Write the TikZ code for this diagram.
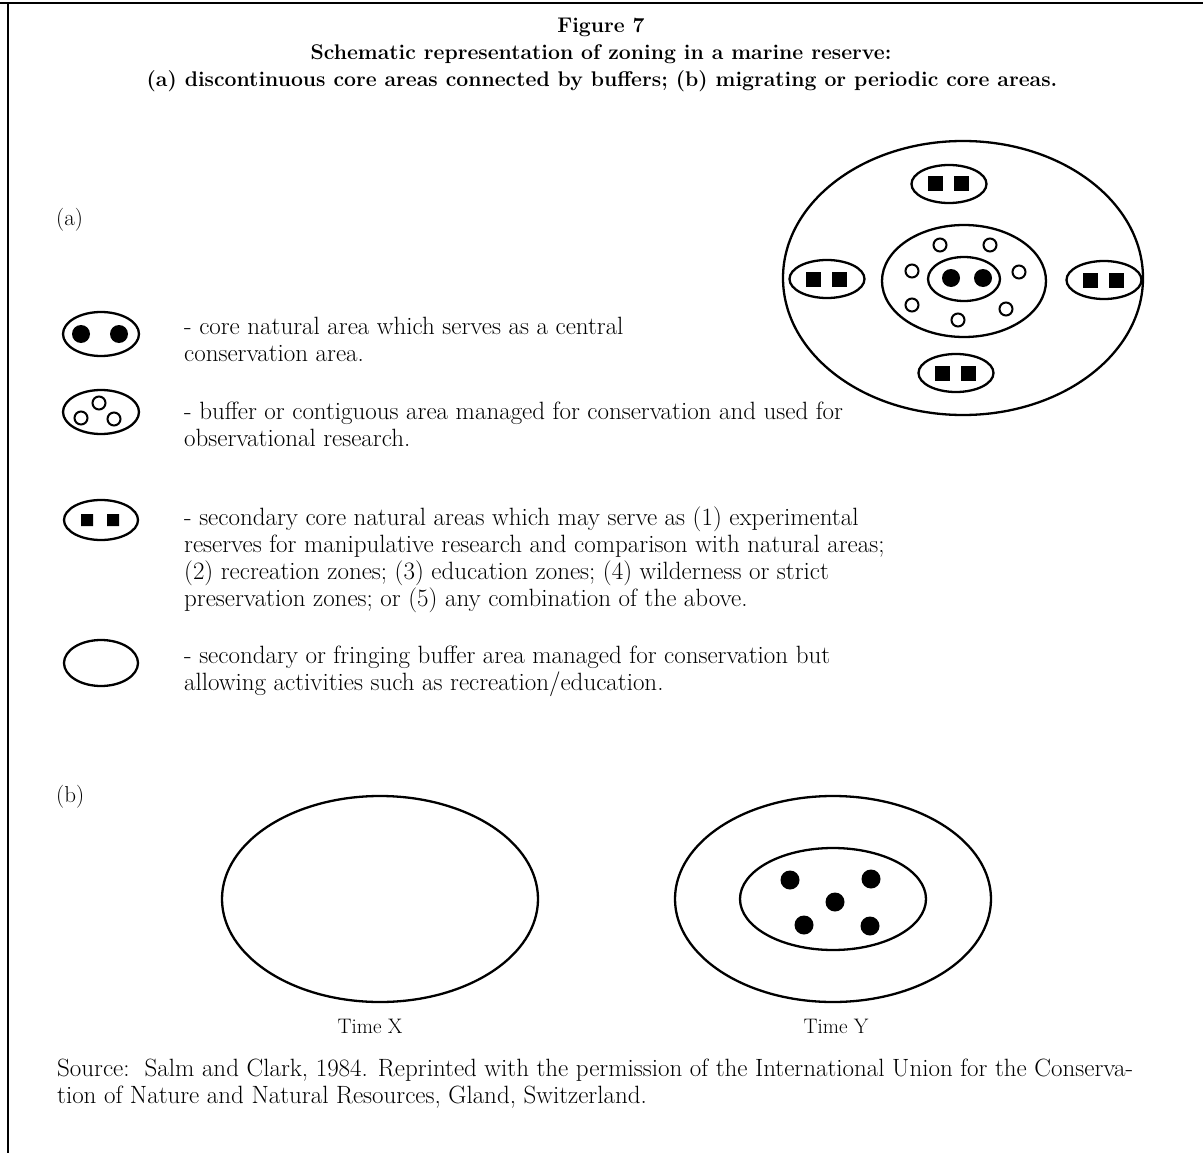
\documentclass[tikz,border=0pt]{standalone}
\usepackage{fontspec}
\usetikzlibrary{positioning}
\newcommand{\bodyfont}{\fontsize{25}{27}\selectfont}
\newcommand{\headfont}{\fontsize{21.2}{27}\selectfont}
\begin{document}
\begin{tikzpicture}[x=1pt,y=-1pt,line width=2.3pt,
  every node/.style={inner sep=0pt},
  txt/.style={align=left,anchor=west,font=\bodyfont},
  ttl/.style={font=\bfseries\headfont},
  hole/.style={line width=2pt}]
  \useasboundingbox (0,0) rectangle (1203,1153);
  % frame (top and left rules only)
  \draw[line width=2.6pt] (0,3) -- (1203,3);
  \draw[line width=2.6pt] (8,3) -- (8,1153);
  % heading
  \node[ttl] (fig) at (601,27) {Figure 7};
  \node[ttl] (scheme) at (601,54) {Schematic representation of zoning in a marine reserve:};
  \node[ttl] (parts) at (602,81) {(a) discontinuous core areas connected by buffers; (b) migrating or periodic core areas.};
  \node[txt,font=\fontsize{23}{27}\selectfont] (parta) at (55,220) {(a)};
  \node[txt,font=\fontsize{23}{27}\selectfont] (partb) at (55,797) {(b)};

  % legend symbols
  \draw (101,334) ellipse [x radius=38pt, y radius=22pt];
  \fill (81,334) circle (9pt) (119,334) circle (9pt);
  \draw (101,412) ellipse [x radius=38pt, y radius=22pt];
  \draw[hole] (81,418) circle (6.5pt) (99,403) circle (6.5pt) (114,419) circle (6.5pt);
  \draw (101,520) ellipse [x radius=37pt, y radius=20pt];
  \fill (81,514) rectangle ++(12,12) (107,514) rectangle ++(12,12);
  \draw (101,663) ellipse [x radius=37pt, y radius=23pt];

  % legend texts
  \node[txt] (coretxt) at (183,339) {- core natural area which serves as a central\\conservation area.};
  \node[txt] (buftxt) at (183,424) {- buffer or contiguous area managed for conservation and used for\\observational research.};
  \node[txt] (sectxt) at (183,560) {- secondary core natural areas which may serve as (1) experimental\\reserves for manipulative research and comparison with natural areas;\\(2) recreation zones; (3) education zones; (4) wilderness or strict\\preservation zones; or (5) any combination of the above.};
  \node[txt] (fringetxt) at (183,671) {- secondary or fringing buffer area managed for conservation but\\allowing activities such as recreation/education.};

  % reserve (a)
  \draw (963,278) ellipse [x radius=180pt, y radius=137pt];
  \draw (964,281) ellipse [x radius=82pt, y radius=56pt];
  \draw (964,279) ellipse [x radius=36pt, y radius=22pt];
  \fill (951,278) circle (9pt) (983,278) circle (9pt);
  \foreach \hx/\hy in {940/245, 990/245, 912/271, 1019/272, 912/305, 1006/309, 958/320}
    \draw[hole] (\hx,\hy) circle (6.5pt);
  \foreach \cx/\cy in {949/184, 827/279, 1104/280, 956/373} {
    \draw (\cx,\cy) ellipse [x radius=37.5pt, y radius=19pt];
    \fill (\cx-21,\cy-7.5) rectangle ++(15,15);
    \fill (\cx+5,\cy-7.5) rectangle ++(15,15);
  }

  % (b) time X and time Y
  \draw (380,899) ellipse [x radius=158pt, y radius=103pt];
  \draw (833,899) ellipse [x radius=158pt, y radius=103pt];
  \draw (833,899) ellipse [x radius=93pt, y radius=51pt];
  \foreach \dx/\dy in {790/880, 871/879, 835/902, 804/925, 870/926}
    \fill (\dx,\dy) circle (9.5pt);
  \node[font=\fontsize{21}{27}\selectfont] (timex) at (370,1026) {Time X};
  \node[font=\fontsize{21}{27}\selectfont] (timey) at (836,1026) {Time Y};

  % source
  \node[txt] (source) at (56,1084) {Source:\ \ Salm and Clark, 1984. Reprinted with the permission of the International Union for the Conserva-\\tion of Nature and Natural Resources, Gland, Switzerland.};
\end{tikzpicture}
\end{document}
